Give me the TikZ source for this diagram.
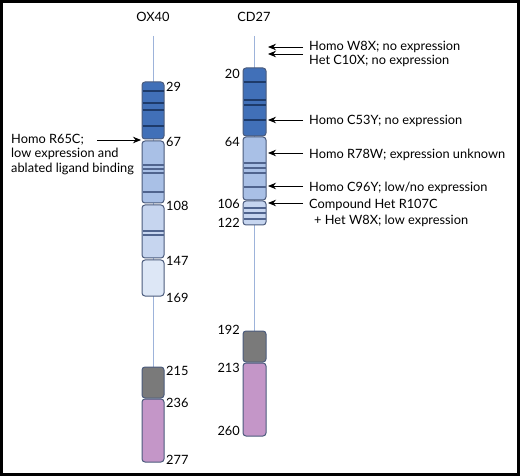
\documentclass[tikz,border=0pt]{standalone}
\usepackage{fontspec}
\setmainfont{Lato}
\usetikzlibrary{arrows.meta}
\definecolor{dkblue}{HTML}{4170B8}
\definecolor{ltblueA}{HTML}{A9C0E6}
\definecolor{ltblueB}{HTML}{C6D5EF}
\definecolor{ltblueC}{HTML}{DDE7F6}
\definecolor{grayseg}{HTML}{7A7A7A}
\definecolor{pinkseg}{HTML}{C496C8}
\definecolor{outl}{HTML}{4B5B7C}
\definecolor{navy}{HTML}{1E3B6A}
\definecolor{midstripe}{HTML}{50648E}
\definecolor{axisline}{HTML}{9DB3DA}
\begin{document}
\begin{tikzpicture}[x=1pt,y=-1pt,
  seg/.style={draw=outl,line width=1pt,rounded corners=3pt},
  dstripe/.style={draw=navy,line width=1.6pt},
  lstripe/.style={draw=midstripe,line width=1.1pt},
  axis/.style={draw=axisline,line width=1pt},
  txt/.style={font=\fontsize{12.8}{14.5}\selectfont,inner sep=0pt},
  num/.style={font=\fontsize{12.8}{14.5}\selectfont,inner sep=0pt},
  arr/.style={-{Stealth[length=8pt,width=6.5pt]},line width=0.9pt}]
\useasboundingbox (0,0) rectangle (520,476);
\draw[line width=2.6pt] (1.3,1.3) rectangle (518.7,474.7);

% titles
\node[txt] (tox) at (153,17) {OX40};
\node[txt] (tcd) at (254,17) {CD27};

% ---------- OX40 ----------
\draw[axis] (153,36) -- (153,367);
\filldraw[seg,fill=dkblue] (142,82) rectangle (164,139);
\foreach \y in {91,103,110,126} \draw[dstripe] (142.5,\y) -- (163.5,\y);
\filldraw[seg,fill=ltblueA] (142,141) rectangle (164,203);
\foreach \y in {165,169,173,192} \draw[lstripe] (142.5,\y) -- (163.5,\y);
\filldraw[seg,fill=ltblueB] (142,205) rectangle (164,258);
\foreach \y in {231,235} \draw[lstripe] (142.5,\y) -- (163.5,\y);
\filldraw[seg,fill=ltblueC] (142,260) rectangle (164,296);
\filldraw[seg,fill=grayseg] (142,367) rectangle (164,398);
\filldraw[seg,fill=pinkseg] (142,399) rectangle (164,462);

\foreach \n/\y in {29/87,67/142,108/206,147/261,169/298,215/371,236/403,277/460}
  \node[num,anchor=west] (ox\n) at (166,\y) {\n};

\coordinate (oxR65) at (141,140);
\node[txt,anchor=north west,align=left] (lR65) at (11,134)
  {Homo R65C;\\low expression and\\ablated ligand binding};
\draw[arr] (97,140) -- (oxR65);

% ---------- CD27 ----------
\draw[axis] (254,36) -- (254,331);
\filldraw[seg,fill=dkblue] (243,68) rectangle (266,136);
\foreach \y in {82,100,105,120} \draw[dstripe] (243.5,\y) -- (265.5,\y);
\filldraw[seg,fill=ltblueA] (243,137) rectangle (266,200);
\foreach \y in {163,168,173,187} \draw[lstripe] (243.5,\y) -- (265.5,\y);
\filldraw[seg,fill=ltblueB] (243,201) rectangle (266,225);
\foreach \y in {208,213,219} \draw[lstripe] (243.5,\y) -- (265.5,\y);
\filldraw[seg,fill=grayseg] (243,331) rectangle (266,362);
\filldraw[seg,fill=pinkseg] (243,363) rectangle (266,436);

\foreach \n/\y in {20/74,64/142,106/204,122/223,192/330,213/368,260/431}
  \node[num,anchor=east] (cd\n) at (240,\y) {\n};

% mutation labels
\node[txt,anchor=west] (m1) at (309,47) {Homo W8X; no expression};
\node[txt,anchor=west] (m2) at (309,61) {Het C10X; no expression};
\node[txt,anchor=west] (m3) at (309,121) {Homo C53Y; no expression};
\node[txt,anchor=west] (m4) at (309,155) {Homo R78W; expression unknown};
\node[txt,anchor=west] (m5) at (309,188) {Homo C96Y; low/no expression};
\node[txt,anchor=west] (m6) at (309,205) {Compound Het R107C};
\node[txt,anchor=west] (m7) at (314,221) {+ Het W8X; low expression};

\coordinate (a1) at (268,47);
\coordinate (a2) at (268,54);
\coordinate (a3) at (268,120);
\coordinate (a4) at (268,153);
\coordinate (a5) at (268,186);
\coordinate (a6) at (268,203);
\draw[arr] (303,47) -- (a1);
\draw[arr] (303,54) -- (a2);
\draw[arr] (303,120) -- (a3);
\draw[arr] (303,153) -- (a4);
\draw[arr] (303,186) -- (a5);
\draw[arr] (303,203) -- (a6);
\end{tikzpicture}
\end{document}
